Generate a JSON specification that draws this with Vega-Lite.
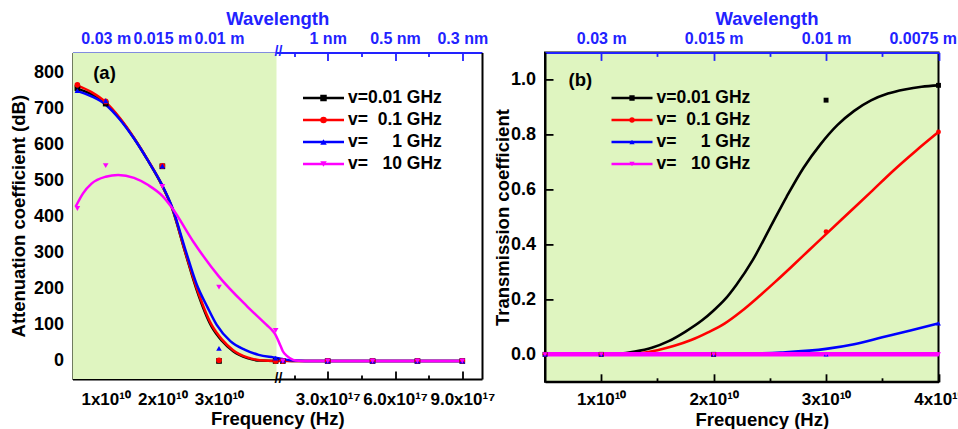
{
  "$schema": "https://vega.github.io/schema/vega-lite/v6.json",
  "background": "white",
  "autosize": {"type": "none"},
  "padding": {"left": 72.5, "top": 52.4, "right": 885.5, "bottom": 376.6},
  "config": {
    "font": "Liberation Sans",
    "view": {"stroke": null},
    "axis": {
      "labelFont": "Liberation Sans", "titleFont": "Liberation Sans",
      "labelFontWeight": "bold", "titleFontWeight": "bold",
      "labelColor": "#000000", "titleColor": "#000000",
      "domainColor": "#000000", "tickColor": "#000000",
      "domainWidth": 2, "tickWidth": 1.8, "tickSize": -8,
      "grid": false, "labelFlush": false, "labelOverlap": false
    },
    "text": {"font": "Liberation Sans"}
  },
  "datasets": {
    "A_fit": [
      {"v": "0.01", "f": 4.7e9, "val": 757}, {"v": "0.01", "f": 7.5e9, "val": 740}, {"v": "0.01", "f": 1.0e10, "val": 714},
      {"v": "0.01", "f": 1.25e10, "val": 672}, {"v": "0.01", "f": 1.5e10, "val": 618}, {"v": "0.01", "f": 1.75e10, "val": 555},
      {"v": "0.01", "f": 2.0e10, "val": 485}, {"v": "0.01", "f": 2.17e10, "val": 425}, {"v": "0.01", "f": 2.4e10, "val": 303},
      {"v": "0.01", "f": 2.6e10, "val": 200}, {"v": "0.01", "f": 2.87e10, "val": 95}, {"v": "0.01", "f": 3.05e10, "val": 56},
      {"v": "0.01", "f": 3.25e10, "val": 27}, {"v": "0.01", "f": 3.5e10, "val": 8}, {"v": "0.01", "f": 3.72e10, "val": 1},
      {"v": "0.01", "f": 4.0e10, "val": 0},
      {"v": "0.01", "f": 8.96e16, "val": 2}, {"v": "0.01", "f": 1.2e17, "val": 0.5}, {"v": "0.01", "f": 1.6e17, "val": 0}, {"v": "0.01", "f": 9e17, "val": 0},
      {"v": "0.1", "f": 4.7e9, "val": 766}, {"v": "0.1", "f": 7.5e9, "val": 746}, {"v": "0.1", "f": 1.0e10, "val": 718},
      {"v": "0.1", "f": 1.25e10, "val": 674}, {"v": "0.1", "f": 1.5e10, "val": 619}, {"v": "0.1", "f": 1.75e10, "val": 556},
      {"v": "0.1", "f": 2.0e10, "val": 486}, {"v": "0.1", "f": 2.17e10, "val": 426}, {"v": "0.1", "f": 2.4e10, "val": 305},
      {"v": "0.1", "f": 2.6e10, "val": 205}, {"v": "0.1", "f": 2.87e10, "val": 100}, {"v": "0.1", "f": 3.05e10, "val": 60},
      {"v": "0.1", "f": 3.25e10, "val": 30}, {"v": "0.1", "f": 3.5e10, "val": 10}, {"v": "0.1", "f": 3.72e10, "val": 2},
      {"v": "0.1", "f": 4.0e10, "val": 0},
      {"v": "0.1", "f": 8.96e16, "val": 0}, {"v": "0.1", "f": 9e17, "val": 0},
      {"v": "1", "f": 4.7e9, "val": 750}, {"v": "1", "f": 7.5e9, "val": 734}, {"v": "1", "f": 1.0e10, "val": 711},
      {"v": "1", "f": 1.25e10, "val": 670}, {"v": "1", "f": 1.5e10, "val": 617}, {"v": "1", "f": 1.75e10, "val": 555},
      {"v": "1", "f": 2.0e10, "val": 487}, {"v": "1", "f": 2.17e10, "val": 428}, {"v": "1", "f": 2.4e10, "val": 312},
      {"v": "1", "f": 2.6e10, "val": 215}, {"v": "1", "f": 2.8e10, "val": 148}, {"v": "1", "f": 2.96e10, "val": 100},
      {"v": "1", "f": 3.2e10, "val": 55}, {"v": "1", "f": 3.46e10, "val": 31}, {"v": "1", "f": 3.7e10, "val": 17},
      {"v": "1", "f": 3.96e10, "val": 10}, {"v": "1", "f": 4.0e10, "val": 9},
      {"v": "1", "f": 8.96e16, "val": 6}, {"v": "1", "f": 1.1e17, "val": 4}, {"v": "1", "f": 1.5e17, "val": 1}, {"v": "1", "f": 2.0e17, "val": 0}, {"v": "1", "f": 9e17, "val": 0},
      {"v": "10", "f": 4.7e9, "val": 428}, {"v": "10", "f": 6.0e9, "val": 465}, {"v": "10", "f": 7.5e9, "val": 492},
      {"v": "10", "f": 1.0e10, "val": 511}, {"v": "10", "f": 1.22e10, "val": 516}, {"v": "10", "f": 1.5e10, "val": 508},
      {"v": "10", "f": 1.75e10, "val": 488}, {"v": "10", "f": 2.0e10, "val": 458}, {"v": "10", "f": 2.17e10, "val": 425},
      {"v": "10", "f": 2.55e10, "val": 330}, {"v": "10", "f": 3.0e10, "val": 234}, {"v": "10", "f": 3.5e10, "val": 151},
      {"v": "10", "f": 3.84e10, "val": 100}, {"v": "10", "f": 3.96e10, "val": 81}, {"v": "10", "f": 4.0e10, "val": 72},
      {"v": "10", "f": 8.96e16, "val": 42}, {"v": "10", "f": 1.0e17, "val": 27}, {"v": "10", "f": 1.18e17, "val": 14}, {"v": "10", "f": 1.46e17, "val": 3},
      {"v": "10", "f": 1.7e17, "val": 0.5}, {"v": "10", "f": 2.0e17, "val": 0}, {"v": "10", "f": 9e17, "val": 0}
    ],
    "A_pts": [
      {"v": "0.01", "f": 5e9, "val": 757}, {"v": "0.01", "f": 1e10, "val": 714}, {"v": "0.01", "f": 2e10, "val": 540}, {"v": "0.01", "f": 3e10, "val": 0}, {"v": "0.01", "f": 4e10, "val": 0},
      {"v": "0.01", "f": 1e17, "val": 0}, {"v": "0.01", "f": 3e17, "val": 0}, {"v": "0.01", "f": 5e17, "val": 0}, {"v": "0.01", "f": 7e17, "val": 0}, {"v": "0.01", "f": 9e17, "val": 0},
      {"v": "0.1", "f": 5e9, "val": 766}, {"v": "0.1", "f": 1e10, "val": 720}, {"v": "0.1", "f": 2e10, "val": 541}, {"v": "0.1", "f": 3e10, "val": 2}, {"v": "0.1", "f": 4e10, "val": 0},
      {"v": "0.1", "f": 1e17, "val": 0}, {"v": "0.1", "f": 3e17, "val": 0}, {"v": "0.1", "f": 5e17, "val": 0}, {"v": "0.1", "f": 7e17, "val": 0}, {"v": "0.1", "f": 9e17, "val": 0},
      {"v": "1", "f": 5e9, "val": 750}, {"v": "1", "f": 1e10, "val": 722}, {"v": "1", "f": 2e10, "val": 541}, {"v": "1", "f": 3e10, "val": 35}, {"v": "1", "f": 4e10, "val": 8},
      {"v": "1", "f": 1e17, "val": 2}, {"v": "1", "f": 3e17, "val": 0}, {"v": "1", "f": 5e17, "val": 0}, {"v": "1", "f": 7e17, "val": 0}, {"v": "1", "f": 9e17, "val": 0},
      {"v": "10", "f": 5e9, "val": 423}, {"v": "10", "f": 1e10, "val": 542}, {"v": "10", "f": 2e10, "val": 484}, {"v": "10", "f": 3e10, "val": 205}, {"v": "10", "f": 4e10, "val": 85},
      {"v": "10", "f": 1e17, "val": 0}, {"v": "10", "f": 3e17, "val": 0}, {"v": "10", "f": 5e17, "val": 0}, {"v": "10", "f": 7e17, "val": 0}, {"v": "10", "f": 9e17, "val": 0}
    ],
    "b_fit": [
      {"v": "0.01", "f": 5e9, "val": 0}, {"v": "0.01", "f": 1.0e10, "val": 0}, {"v": "0.01", "f": 1.15e10, "val": 0.002},
      {"v": "0.01", "f": 1.3e10, "val": 0.01}, {"v": "0.01", "f": 1.45e10, "val": 0.024}, {"v": "0.01", "f": 1.6e10, "val": 0.048},
      {"v": "0.01", "f": 1.75e10, "val": 0.083}, {"v": "0.01", "f": 1.9e10, "val": 0.125}, {"v": "0.01", "f": 2.0e10, "val": 0.16},
      {"v": "0.01", "f": 2.1e10, "val": 0.2}, {"v": "0.01", "f": 2.2e10, "val": 0.252}, {"v": "0.01", "f": 2.35e10, "val": 0.345},
      {"v": "0.01", "f": 2.5e10, "val": 0.46}, {"v": "0.01", "f": 2.65e10, "val": 0.575}, {"v": "0.01", "f": 2.8e10, "val": 0.68},
      {"v": "0.01", "f": 2.95e10, "val": 0.765}, {"v": "0.01", "f": 3.1e10, "val": 0.835}, {"v": "0.01", "f": 3.25e10, "val": 0.887},
      {"v": "0.01", "f": 3.4e10, "val": 0.925}, {"v": "0.01", "f": 3.55e10, "val": 0.95}, {"v": "0.01", "f": 3.7e10, "val": 0.965},
      {"v": "0.01", "f": 3.85e10, "val": 0.975}, {"v": "0.01", "f": 4.0e10, "val": 0.98},
      {"v": "0.1", "f": 5e9, "val": 0}, {"v": "0.1", "f": 1.2e10, "val": 0}, {"v": "0.1", "f": 1.35e10, "val": 0.004},
      {"v": "0.1", "f": 1.5e10, "val": 0.015}, {"v": "0.1", "f": 1.65e10, "val": 0.031}, {"v": "0.1", "f": 1.8e10, "val": 0.052},
      {"v": "0.1", "f": 1.95e10, "val": 0.08}, {"v": "0.1", "f": 2.1e10, "val": 0.113}, {"v": "0.1", "f": 2.25e10, "val": 0.158},
      {"v": "0.1", "f": 2.4e10, "val": 0.21}, {"v": "0.1", "f": 2.55e10, "val": 0.265}, {"v": "0.1", "f": 2.7e10, "val": 0.322},
      {"v": "0.1", "f": 2.85e10, "val": 0.38}, {"v": "0.1", "f": 3.0e10, "val": 0.438}, {"v": "0.1", "f": 3.2e10, "val": 0.515},
      {"v": "0.1", "f": 3.4e10, "val": 0.592}, {"v": "0.1", "f": 3.6e10, "val": 0.67}, {"v": "0.1", "f": 3.8e10, "val": 0.742},
      {"v": "0.1", "f": 4.0e10, "val": 0.81},
      {"v": "1", "f": 5e9, "val": 0}, {"v": "1", "f": 2.0e10, "val": 0}, {"v": "1", "f": 2.3e10, "val": 0.002},
      {"v": "1", "f": 2.6e10, "val": 0.007}, {"v": "1", "f": 3.0e10, "val": 0.02}, {"v": "1", "f": 3.25e10, "val": 0.037},
      {"v": "1", "f": 3.5e10, "val": 0.062}, {"v": "1", "f": 3.75e10, "val": 0.087}, {"v": "1", "f": 4.0e10, "val": 0.113},
      {"v": "10", "f": 5e9, "val": 0}, {"v": "10", "f": 4.0e10, "val": 0}
    ],
    "b_pts": [
      {"v": "0.01", "f": 5e9, "val": 0}, {"v": "0.01", "f": 1e10, "val": 0}, {"v": "0.01", "f": 2e10, "val": 0}, {"v": "0.01", "f": 3e10, "val": 0.926}, {"v": "0.01", "f": 4e10, "val": 0.98},
      {"v": "0.1", "f": 5e9, "val": 0}, {"v": "0.1", "f": 1e10, "val": 0}, {"v": "0.1", "f": 2e10, "val": 0}, {"v": "0.1", "f": 3e10, "val": 0.447}, {"v": "0.1", "f": 4e10, "val": 0.81},
      {"v": "1", "f": 5e9, "val": 0}, {"v": "1", "f": 1e10, "val": 0}, {"v": "1", "f": 2e10, "val": 0}, {"v": "1", "f": 3e10, "val": 0}, {"v": "1", "f": 4e10, "val": 0.113},
      {"v": "10", "f": 5e9, "val": 0}, {"v": "10", "f": 1e10, "val": 0}, {"v": "10", "f": 2e10, "val": 0}, {"v": "10", "f": 3e10, "val": 0}, {"v": "10", "f": 4e10, "val": 0}
    ]
  },
  "bounds": "flush",
  "spacing": 62.5,
  "resolve": {"scale": {"color": "independent", "fill": "independent", "shape": "independent"}, "legend": {"color": "independent", "fill": "independent", "shape": "independent"}},
  "hconcat": [
    {
      "width": 409.5,
      "height": 326.6,
      "view": {"stroke": null},
      "resolve": {"axis": {"x": "independent", "y": "independent"}},
      "layer": [
        {
          "data": {"values": [{}]},
          "mark": {"type": "rect", "color": "#dff5c0"},
          "encoding": {
            "x": {"datum": 4.14e9, "type": "quantitative", "scale": {"domain": [4.14e9, 4.015e10, 8.96e16, 9.878e17], "range": [0, 204, 208, 409.5], "nice": false, "zero": false}, "axis": null},
            "x2": {"datum": 4.015e10},
            "y": {"datum": -50, "type": "quantitative", "scale": {"domain": [-50, 856], "nice": false, "zero": false}, "axis": null},
            "y2": {"datum": 856}
          }
        },
        {
          "data": {"name": "A_fit"},
          "mark": {"type": "line", "interpolate": "monotone", "strokeWidth": 2.5},
          "encoding": {
            "x": {"field": "f", "type": "quantitative", "scale": {"domain": [4.14e9, 4.015e10, 8.96e16, 9.878e17], "range": [0, 204, 208, 409.5], "nice": false, "zero": false},
              "axis": {"orient": "bottom", "values": [1e10, 2e10, 3e10, 3e17, 6e17, 9e17],
                "labelExpr": "datum.value < 1e12 ? format(datum.value/1e10,'d') + 'x10\u00b9\u2070' : format(datum.value/1e17,'.1f') + 'x10\u00b9\u2077'",
                "labelFontSize": 17, "labelPadding": 20.6, "title": "Frequency (Hz)", "titleFontSize": 18.5, "titlePadding": 1.5}},
            "y": {"field": "val", "type": "quantitative", "scale": {"domain": [-50, 856], "nice": false, "zero": false},
              "axis": {"orient": "left", "values": [0, 100, 200, 300, 400, 500, 600, 700, 800], "format": "d", "labelFontSize": 18, "labelPadding": 17,
                "title": "Attenuation coefficient (dB)", "titleFontSize": 18.5, "titlePadding": 5}},
            "color": {"field": "v", "type": "nominal", "scale": {"range": ["#000000", "#ff0000", "#0000ff", "#ff00ff"]},
              "legend": {
                "orient": "none", "legendX": 229, "legendY": 34.85, "title": null, "padding": 0, "offset": 0,
                "symbolType": "stroke", "symbolSize": 1681, "symbolStrokeWidth": 2.5, "clipHeight": 21.5, "rowPadding": 0, "labelOffset": 2.5,
                "labelFontSize": 17.5, "labelFont": "Liberation Sans", "labelFontWeight": "bold", "labelColor": "#000000",
                "labelExpr": "datum.value==='0.01'?'v=0.01 GHz':datum.value==='0.1'?'v=\u00a0\u00a00.1 GHz':datum.value==='1'?'v=\u00a0\u00a0\u00a0\u00a0\u00a01 GHz':'v=\u00a0\u00a0\u00a010 GHz'"
              }}
          }
        },
        {
          "data": {"name": "A_pts"},
          "mark": {"type": "point", "filled": true, "size": 32, "opacity": 1},
          "encoding": {
            "x": {"field": "f", "type": "quantitative", "scale": {"domain": [4.14e9, 4.015e10, 8.96e16, 9.878e17], "range": [0, 204, 208, 409.5], "nice": false, "zero": false},
              "axis": {"orient": "top", "values": [1e10, 2e10, 3e10, 3e17, 6e17, 9e17],
                "labelExpr": "datum.value < 1.5e10 ? '0.03 m' : datum.value < 2.5e10 ? '0.015 m' : datum.value < 1e12 ? '0.01 m' : datum.value < 4.5e17 ? '1 nm' : datum.value < 7.5e17 ? '0.5 nm' : '0.3 nm'",
                "labelFontSize": 16, "labelPadding": 13.7, "labelColor": "#2222ff", "domainColor": "#2222ff", "tickColor": "#2222ff",
                "title": "Wavelength", "titleColor": "#2222ff", "titleFontSize": 18.5, "titlePadding": 2.3}},
            "y": {"field": "val", "type": "quantitative", "scale": {"domain": [-50, 856], "nice": false, "zero": false}, "axis": null},
            "fill": {"field": "v", "type": "nominal", "scale": {"domain": ["0.01", "0.1", "1", "10"], "range": ["#000000", "#ff0000", "#0000ff", "#ff00ff"]},
              "legend": {
                "orient": "none", "legendX": 242.25, "legendY": 34.85, "title": null, "padding": 0, "offset": 0,
                "symbolSize": 42, "symbolStrokeWidth": 0, "clipHeight": 21.5, "rowPadding": 0,
                "labelFontSize": 17.5, "labelExpr": "''"
              }},
            "shape": {"field": "v", "type": "nominal", "scale": {"domain": ["0.01", "0.1", "1", "10"], "range": ["square", "circle", "triangle-up", "triangle-down"]},
              "legend": {
                "orient": "none", "legendX": 242.25, "legendY": 34.85, "title": null, "padding": 0, "offset": 0,
                "symbolSize": 42, "symbolStrokeWidth": 0, "clipHeight": 21.5, "rowPadding": 0,
                "labelFontSize": 17.5, "labelExpr": "''"
              }}
          }
        },
        {
          "data": {"name": "A_pts"},
          "mark": {"type": "point", "opacity": 0},
          "encoding": {
            "x": {"field": "f", "type": "quantitative", "scale": {"domain": [4.14e9, 4.015e10, 8.96e16, 9.878e17], "range": [0, 204, 208, 409.5], "nice": false, "zero": false},
              "axis": {"orient": "bottom", "values": [5e9, 1.5e10, 2.5e10, 3.5e10, 1.5e17, 4.5e17, 7.5e17], "labels": false, "domain": false, "tickSize": -4, "title": null}},
            "y": {"field": "val", "type": "quantitative", "scale": {"domain": [-50, 856], "nice": false, "zero": false},
              "axis": {"orient": "right", "labels": false, "ticks": false, "domain": true, "title": null}}
          }
        },
        {
          "data": {"name": "A_pts"},
          "mark": {"type": "point", "opacity": 0},
          "encoding": {
            "x": {"field": "f", "type": "quantitative", "scale": {"domain": [4.14e9, 4.015e10, 8.96e16, 9.878e17], "range": [0, 204, 208, 409.5], "nice": false, "zero": false},
              "axis": {"orient": "top", "values": [5e9, 1.5e10, 2.5e10, 3.5e10, 1.5e17, 4.5e17, 7.5e17], "labels": false, "domain": false, "tickSize": -4, "tickColor": "#2222ff", "title": null}},
            "y": {"field": "val", "type": "quantitative", "scale": {"domain": [-50, 856], "nice": false, "zero": false}, "axis": null}
          }
        },
        {
          "data": {"values": [{}]},
          "mark": {"type": "text", "text": "(a)", "align": "left", "baseline": "middle", "fontSize": 18.5, "fontWeight": "bold", "color": "#000000"},
          "encoding": {
            "x": {"datum": 7.79e9, "type": "quantitative", "scale": {"domain": [4.14e9, 4.015e10, 8.96e16, 9.878e17], "range": [0, 204, 208, 409.5], "nice": false, "zero": false}, "axis": null},
            "y": {"datum": 800, "type": "quantitative", "scale": {"domain": [-50, 856], "nice": false, "zero": false}, "axis": null}
          }
        },
        {
          "data": {"values": [{}]},
          "mark": {"type": "text", "text": "//", "align": "center", "baseline": "middle", "fontSize": 14, "fontWeight": "bold", "color": "#000000"},
          "encoding": {
            "x": {"datum": 4.48e16, "type": "quantitative", "scale": {"domain": [4.14e9, 4.015e10, 8.96e16, 9.878e17], "range": [0, 204, 208, 409.5], "nice": false, "zero": false}, "axis": null},
            "y": {"datum": -50, "type": "quantitative", "scale": {"domain": [-50, 856], "nice": false, "zero": false}, "axis": null}
          }
        },
        {
          "data": {"values": [{}]},
          "mark": {"type": "text", "text": "//", "align": "center", "baseline": "middle", "fontSize": 14, "fontWeight": "bold", "color": "#2222ff"},
          "encoding": {
            "x": {"datum": 4.48e16, "type": "quantitative", "scale": {"domain": [4.14e9, 4.015e10, 8.96e16, 9.878e17], "range": [0, 204, 208, 409.5], "nice": false, "zero": false}, "axis": null},
            "y": {"datum": 856, "type": "quantitative", "scale": {"domain": [-50, 856], "nice": false, "zero": false}, "axis": null}
          }
        }
      ]
    },
    {
      "width": 393.5,
      "height": 329.4,
      "view": {"fill": "#dff5c0", "stroke": "#000000", "strokeWidth": 2},
      "resolve": {"axis": {"x": "independent", "y": "independent"}},
      "layer": [
        {
          "data": {"name": "b_fit"},
          "transform": [{"filter": "datum.v !== '10'"}],
          "mark": {"type": "line", "interpolate": "monotone", "strokeWidth": 2.6},
          "encoding": {
            "x": {"field": "f", "type": "quantitative", "scale": {"domain": [5e9, 4e10], "nice": false, "zero": false},
              "axis": {"orient": "bottom", "values": [1e10, 2e10, 3e10, 4e10], "labelExpr": "format(datum.value/1e10,'d') + 'x10\u00b9\u2070'",
                "labelFontSize": 17, "labelPadding": 18, "title": "Frequency (Hz)", "titleFontSize": 18.5, "titlePadding": 3, "titleX": 216.8}},
            "y": {"field": "val", "type": "quantitative", "scale": {"domain": [-0.1, 1.1], "nice": false, "zero": false},
              "axis": {"orient": "left", "values": [0, 0.2, 0.4, 0.6, 0.8, 1.0], "format": ".1f", "labelFontSize": 18, "labelPadding": 17.5,
                "title": "Transmission coefficient", "titleFontSize": 18.5, "titlePadding": -2}},
            "color": {"field": "v", "type": "nominal", "scale": {"range": ["#000000", "#ff0000", "#0000ff", "#ff00ff"]},
              "legend": {
                "orient": "none", "legendX": 65, "legendY": 34.85, "title": null, "padding": 0, "offset": 0,
                "symbolType": "stroke", "symbolSize": 1681, "symbolStrokeWidth": 2.5, "clipHeight": 21.5, "rowPadding": 0, "labelOffset": 2.5,
                "labelFontSize": 17.5, "labelFont": "Liberation Sans", "labelFontWeight": "bold", "labelColor": "#000000",
                "labelExpr": "datum.value==='0.01'?'v=0.01 GHz':datum.value==='0.1'?'v=\u00a0\u00a00.1 GHz':datum.value==='1'?'v=\u00a0\u00a0\u00a0\u00a0\u00a01 GHz':'v=\u00a0\u00a0\u00a010 GHz'"
              }}
          }
        },
        {
          "data": {"name": "b_fit"},
          "transform": [{"filter": "datum.v === '10'"}],
          "mark": {"type": "line", "interpolate": "monotone", "strokeWidth": 4.5},
          "encoding": {
            "x": {"field": "f", "type": "quantitative", "scale": {"domain": [5e9, 4e10], "nice": false, "zero": false}, "axis": null},
            "y": {"field": "val", "type": "quantitative", "scale": {"domain": [-0.1, 1.1], "nice": false, "zero": false}, "axis": null},
            "color": {"field": "v", "type": "nominal", "scale": {"range": ["#000000", "#ff0000", "#0000ff", "#ff00ff"]}, "legend": null}
          }
        },
        {
          "data": {"name": "b_pts"},
          "mark": {"type": "point", "filled": true, "size": 24, "opacity": 1},
          "encoding": {
            "x": {"field": "f", "type": "quantitative", "scale": {"domain": [5e9, 4e10], "nice": false, "zero": false},
              "axis": {"orient": "top", "values": [1e10, 2e10, 3e10, 4e10],
                "labelExpr": "datum.value < 1.5e10 ? '0.03 m' : datum.value < 2.5e10 ? '0.015 m' : datum.value < 3.5e10 ? '0.01 m' : '0.0075 m'",
                "labelFlush": true, "labelFlushOffset": 18,
                "labelFontSize": 16, "labelPadding": 13.7, "labelColor": "#2222ff", "domainColor": "#2222ff", "tickColor": "#2222ff",
                "title": "Wavelength", "titleColor": "#2222ff", "titleFontSize": 18.5, "titlePadding": 2.3, "titleX": 221.5}},
            "y": {"field": "val", "type": "quantitative", "scale": {"domain": [-0.1, 1.1], "nice": false, "zero": false}, "axis": null},
            "fill": {"field": "v", "type": "nominal", "scale": {"domain": ["0.01", "0.1", "1", "10"], "range": ["#000000", "#ff0000", "#0000ff", "#ff00ff"]},
              "legend": {
                "orient": "none", "legendX": 78.25, "legendY": 34.85, "title": null, "padding": 0, "offset": 0,
                "symbolSize": 28, "symbolStrokeWidth": 0, "clipHeight": 21.5, "rowPadding": 0,
                "labelFontSize": 17.5, "labelExpr": "''"
              }},
            "shape": {"field": "v", "type": "nominal", "scale": {"domain": ["0.01", "0.1", "1", "10"], "range": ["square", "circle", "triangle-up", "triangle-down"]},
              "legend": {
                "orient": "none", "legendX": 78.25, "legendY": 34.85, "title": null, "padding": 0, "offset": 0,
                "symbolSize": 28, "symbolStrokeWidth": 0, "clipHeight": 21.5, "rowPadding": 0,
                "labelFontSize": 17.5, "labelExpr": "''"
              }}
          }
        },
        {
          "data": {"name": "b_pts"},
          "mark": {"type": "point", "opacity": 0},
          "encoding": {
            "x": {"field": "f", "type": "quantitative", "scale": {"domain": [5e9, 4e10], "nice": false, "zero": false},
              "axis": {"orient": "bottom", "values": [1.5e10, 2.5e10, 3.5e10], "labels": false, "domain": false, "tickSize": -4, "title": null}},
            "y": {"field": "val", "type": "quantitative", "scale": {"domain": [-0.1, 1.1], "nice": false, "zero": false}, "axis": null}
          }
        },
        {
          "data": {"name": "b_pts"},
          "mark": {"type": "point", "opacity": 0},
          "encoding": {
            "x": {"field": "f", "type": "quantitative", "scale": {"domain": [5e9, 4e10], "nice": false, "zero": false},
              "axis": {"orient": "top", "values": [1.5e10, 2.5e10, 3.5e10], "labels": false, "domain": false, "tickSize": -4, "tickColor": "#2222ff", "title": null}},
            "y": {"field": "val", "type": "quantitative", "scale": {"domain": [-0.1, 1.1], "nice": false, "zero": false}, "axis": null}
          }
        },
        {
          "data": {"values": [{}]},
          "mark": {"type": "text", "text": "(b)", "align": "left", "baseline": "middle", "fontSize": 18.5, "fontWeight": "bold", "color": "#000000"},
          "encoding": {
            "x": {"datum": 7.09e9, "type": "quantitative", "scale": {"domain": [5e9, 4e10], "nice": false, "zero": false}, "axis": null},
            "y": {"datum": 1.0, "type": "quantitative", "scale": {"domain": [-0.1, 1.1], "nice": false, "zero": false}, "axis": null}
          }
        }
      ]
    }
  ]
}
